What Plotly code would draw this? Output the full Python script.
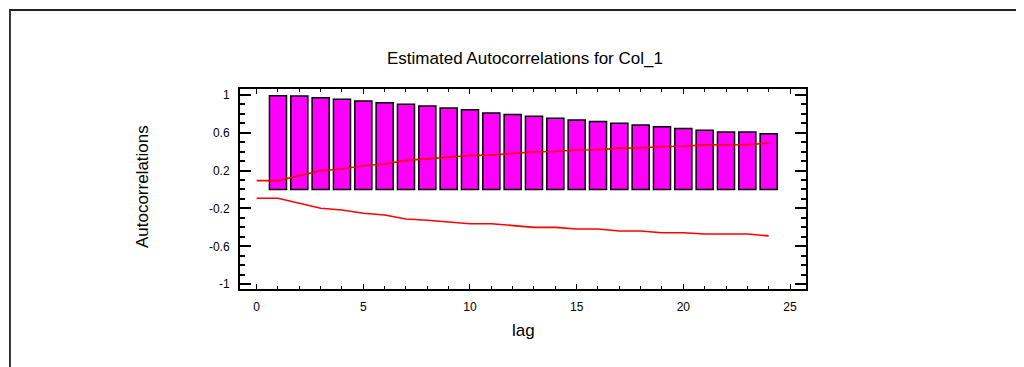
import plotly.graph_objects as go

# ---- data ----
lags = list(range(1, 25))
acf = [0.990, 0.987, 0.969, 0.952, 0.934, 0.916, 0.899, 0.881, 0.860, 0.842,
       0.807, 0.790, 0.772, 0.751, 0.733, 0.716, 0.698, 0.680, 0.663, 0.642,
       0.624, 0.607, 0.607, 0.589]

limit_lags = list(range(0, 25))
upper_limit = [0.093, 0.093, 0.146, 0.198, 0.216, 0.250, 0.269, 0.307, 0.323, 0.341,
               0.359, 0.362, 0.380, 0.398, 0.401, 0.417, 0.419, 0.436, 0.438, 0.454,
               0.456, 0.471, 0.472, 0.473, 0.489]
lower_limit = [-0.093, -0.093, -0.146, -0.198, -0.216, -0.251, -0.269, -0.311, -0.325, -0.343,
               -0.361, -0.361, -0.380, -0.400, -0.400, -0.417, -0.417, -0.438, -0.438, -0.456,
               -0.456, -0.470, -0.470, -0.470, -0.490]

y_tickvals = [-1, -0.6, -0.2, 0.2, 0.6, 1]
y_ticktext = ["-1", "-0.6", "-0.2", "0.2", "0.6", "1"]
x_tickvals = [0, 5, 10, 15, 20, 25]
x_ticktext = ["0", "5", "10", "15", "20", "25"]

title_text = "Estimated Autocorrelations for Col_1"
x_title = "lag"
y_title = "Autocorrelations"

FONT = "Arial, Liberation Sans, sans-serif"

fig = go.Figure()
fig.add_trace(go.Bar(
    x=lags, y=acf,
    marker=dict(color="#FF00FF", line=dict(color="black", width=1.5)),
    showlegend=False,
))
fig.add_trace(go.Scatter(
    x=limit_lags, y=upper_limit, mode="lines",
    line=dict(color="#FF0000", width=1.6), showlegend=False,
))
fig.add_trace(go.Scatter(
    x=limit_lags, y=lower_limit, mode="lines",
    line=dict(color="#FF0000", width=1.6), showlegend=False,
))

fig.update_layout(
    width=1016, height=359,
    margin=dict(l=232, r=218, t=81, b=78, pad=0),
    paper_bgcolor="white", plot_bgcolor="white",
    bargap=0.2,
    font=dict(family=FONT, color="black", size=12),
    xaxis=dict(
        range=[-0.78, 25.75],
        tickmode="array", tickvals=x_tickvals, ticktext=x_ticktext,
        ticks="inside", ticklen=5, tickwidth=1.2, tickcolor="black",
        minor=dict(ticks="inside", dtick=1, tick0=0, ticklen=3, tickwidth=1.2, tickcolor="black"),
        showline=True, linecolor="black", linewidth=2, mirror="allticks",
        showgrid=False, zeroline=False,
        tickfont=dict(size=12, family=FONT),
        ticklabelstandoff=6,
    ),
    yaxis=dict(
        range=[-1.05, 1.06],
        tickmode="array", tickvals=y_tickvals, ticktext=y_ticktext,
        ticks="inside", ticklen=11, tickwidth=1.5, tickcolor="black",
        minor=dict(ticks="inside", dtick=0.1, tick0=0, ticklen=5, tickwidth=1.5, tickcolor="black"),
        showline=True, linecolor="black", linewidth=2, mirror="allticks",
        showgrid=False, zeroline=False,
        tickfont=dict(size=12, family=FONT),
        ticklabelstandoff=6,
    ),
    shapes=[dict(
        type="rect", xref="paper", yref="paper",
        x0=-0.4064, x1=1.5, y0=-0.6, y1=1.395,
        line=dict(color="#222222", width=1.8), fillcolor="rgba(0,0,0,0)",
        layer="below",
    )],
    annotations=[
        dict(text=title_text, xref="paper", yref="paper", x=0.5035, y=1.151,
             xanchor="center", yanchor="middle", showarrow=False,
             font=dict(size=17, family=FONT, color="black")),
        dict(text=y_title, xref="paper", yref="paper", x=-0.173, y=0.51,
             xanchor="center", yanchor="middle", showarrow=False, textangle=-90,
             font=dict(size=17, family=FONT, color="black")),
        dict(text=x_title, xref="paper", yref="paper", x=0.5, y=-0.205,
             xanchor="center", yanchor="middle", showarrow=False,
             font=dict(size=17, family=FONT, color="black")),
    ],
)

fig.write_html("out.html")
